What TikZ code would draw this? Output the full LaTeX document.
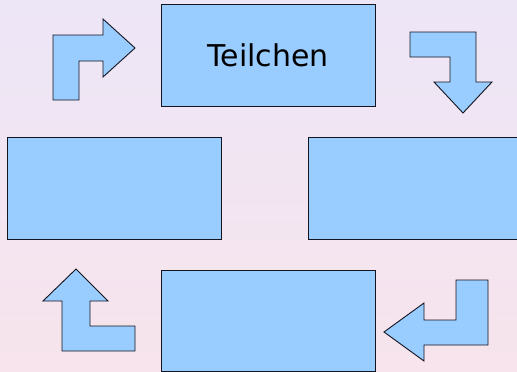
\documentclass[tikz,border=0pt]{standalone}
\usepackage{fontspec}
\setmainfont{DejaVu Sans}
\definecolor{boxfill}{RGB}{153,204,255}
\definecolor{bgtop}{RGB}{237,230,247}
\definecolor{bgbot}{RGB}{247,228,236}
\definecolor{edge}{RGB}{20,20,30}
\begin{document}
\begin{tikzpicture}[x=1pt,y=-1pt,
  box/.style={draw=edge,fill=boxfill,line width=1pt,rectangle,inner sep=0pt},
  bentarrow/.style={draw=edge,fill=boxfill,line width=0.9pt,line join=miter}]
\shade[top color=bgtop,bottom color=bgbot] (0,0) rectangle (517,372);
\useasboundingbox (0,0) rectangle (517,372);
% boxes
\node[box,minimum width=214pt,minimum height=102pt,font=\fontsize{30}{34}\selectfont] (top) at (268,55) {Teilchen};
\node[box,minimum width=214pt,minimum height=102pt] (left) at (114,188) {};
\node[box,minimum width=214pt,minimum height=102pt] (right) at (415,188) {};
\node[box,minimum width=214pt,minimum height=101pt] (bottom) at (268,320.5) {};
% bent arrows
\draw[bentarrow] (53,100) -- (53,35) -- (103,35) -- (103,19) -- (135,48) -- (103,77) -- (103,61) -- (79,61) -- (79,100) -- cycle;
\draw[bentarrow] (410,32) -- (476,32) -- (476,82) -- (492,82) -- (463,113) -- (434,82) -- (450,82) -- (450,57) -- (410,57) -- cycle;
\draw[bentarrow] (456,280) -- (488,280) -- (488,345) -- (424,345) -- (424,361) -- (384,332) -- (424,303) -- (424,320) -- (456,320) -- cycle;
\draw[bentarrow] (76,269) -- (108,301) -- (90,301) -- (90,326) -- (135,326) -- (135,351) -- (62,351) -- (62,301) -- (43,301) -- cycle;
\end{tikzpicture}
\end{document}
